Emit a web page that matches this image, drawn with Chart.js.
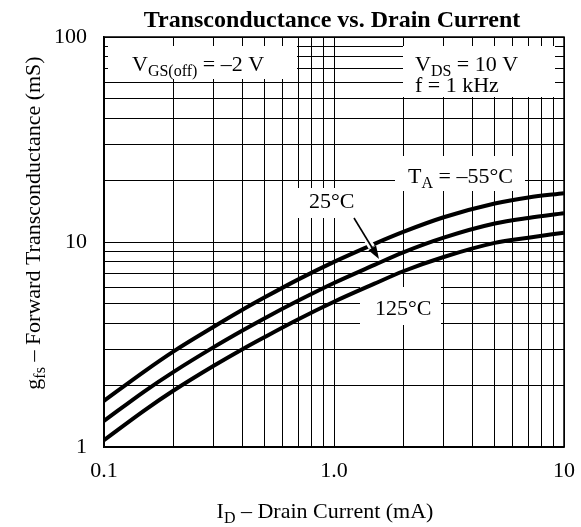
<!DOCTYPE html>
<html>
<head>
<meta charset="utf-8">
<script src="https://cdn.jsdelivr.net/npm/chart.js@4"></script>
<style>
  html, body { margin: 0; padding: 0; background: #fff; }
</style>
</head>
<body>
<canvas id="chart" width="581" height="527"></canvas>
<script>
// Drain current (mA) and forward transconductance (mS)
const currents   = [0.1, 0.15, 0.2, 0.3, 0.4, 0.5, 0.7, 1, 1.5, 2, 3, 5, 7, 10];
const gfsMinus55 = [1.68, 2.34, 2.92, 3.86, 4.67, 5.37, 6.57, 8.0, 9.8, 11.2, 13.2, 15.4, 16.5, 17.3];
const gfs25      = [1.34, 1.87, 2.32, 3.07, 3.70, 4.25, 5.18, 6.31, 7.73, 8.9, 10.5, 12.3, 13.1, 13.8];
const gfs125     = [1.08, 1.51, 1.88, 2.49, 3.0, 3.44, 4.2, 5.11, 6.26, 7.2, 8.45, 9.9, 10.5, 11.1];

// grid lines and tick labels
const xGrid = [0.1, 0.2, 0.3, 0.4, 0.5, 0.6, 0.7, 0.8, 0.9, 1, 2, 3, 4, 5, 6, 7, 8, 9, 10];
const yGrid = [1, 2, 3, 4, 5, 6, 7, 8, 9, 10, 20, 30, 40, 50, 60, 70, 80, 90, 100];
const xLabels = { 0.1: "0.1", 1: "1.0", 10: "10" };
const yLabels = { 1: "1", 10: "10", 100: "100" };

const FAMILY = "'Liberation Serif', 'Times New Roman', serif";
const MAIN = "22px " + FAMILY;
const SUB = "16px " + FAMILY;

const toPoints = vals => currents.map((c, i) => ({ x: c, y: vals[i] }));

// draws text with subscripts, parts = [[text, isSub], ...]
function richText(ctx, parts, x, y, align) {
  let w = 0;
  parts.forEach(p => { ctx.font = p[1] ? SUB : MAIN; w += ctx.measureText(p[0]).width; });
  let cx = align === "center" ? x - w / 2 : x;
  ctx.textAlign = "left";
  ctx.textBaseline = "alphabetic";
  parts.forEach(p => {
    ctx.font = p[1] ? SUB : MAIN;
    ctx.fillText(p[0], cx, y + (p[1] ? 5 : 0));
    cx += ctx.measureText(p[0]).width;
  });
}

const boxes = [
  [108, 46, 297, 79],
  [403, 46, 555, 97],
  [395, 156, 525, 191],
  [290, 188, 358, 218],
  [360, 287, 441, 325]
];

const decorations = {
  id: "decorations",
  beforeDatasetsDraw(chart) {
    const ctx = chart.ctx;
    ctx.save();
    ctx.fillStyle = "#fff";
    boxes.forEach(b => ctx.fillRect(b[0], b[1], b[2] - b[0], b[3] - b[1]));
    ctx.restore();
  },
  afterDatasetsDraw(chart) {
    const ctx = chart.ctx;
    const a = chart.chartArea;
    ctx.save();
    // frame
    ctx.strokeStyle = "#000";
    ctx.lineWidth = 1.5;
    ctx.strokeRect(a.left, a.top, a.right - a.left, a.bottom - a.top);

    // arrow 25°C
    const x0 = 354, y0 = 218, x1 = 379, y1 = 259;
    const dx = x1 - x0, dy = y1 - y0, len = Math.hypot(dx, dy);
    const ux = dx / len, uy = dy / len;
    ctx.strokeStyle = "#fff";
    ctx.lineWidth = 7;
    ctx.beginPath();
    ctx.moveTo(x0 + ux * 12, y0 + uy * 12);
    ctx.lineTo(x1 - ux * 14, y1 - uy * 14);
    ctx.stroke();
    ctx.strokeStyle = "#000";
    ctx.lineWidth = 1.6;
    ctx.beginPath();
    ctx.moveTo(x0, y0);
    ctx.lineTo(x1 - ux * 10, y1 - uy * 10);
    ctx.stroke();
    ctx.fillStyle = "#000";
    ctx.beginPath();
    ctx.moveTo(x1, y1);
    ctx.lineTo(x1 - ux * 13 - uy * 4.5, y1 - uy * 13 + ux * 4.5);
    ctx.lineTo(x1 - ux * 13 + uy * 4.5, y1 - uy * 13 - ux * 4.5);
    ctx.closePath();
    ctx.fill();
    ctx.restore();
  },
  afterDraw(chart) {
    const ctx = chart.ctx;
    ctx.save();
    ctx.fillStyle = "#000";
    // title
    ctx.font = "bold 24px " + FAMILY;
    ctx.textAlign = "center";
    ctx.textBaseline = "alphabetic";
    ctx.fillText("Transconductance vs. Drain Current", 332, 27);

    richText(ctx, [["V"], ["GS(off)", 1], [" = \u20132 V"]], 132, 70.5, "left");
    richText(ctx, [["V"], ["DS", 1], [" = 10 V"]], 415, 70.5, "left");
    richText(ctx, [["f = 1 kHz"]], 415, 92, "left");
    richText(ctx, [["T"], ["A", 1], [" = \u201355\u00B0C"]], 408, 183, "left");
    richText(ctx, [["25\u00B0C"]], 309, 208, "left");
    richText(ctx, [["125\u00B0C"]], 375, 315, "left");

    // axis titles
    richText(ctx, [["I"], ["D", 1], [" \u2013 Drain Current (mA)"]], 325, 518, "center");
    ctx.translate(40, 223);
    ctx.rotate(-Math.PI / 2);
    richText(ctx, [["g"], ["fs", 1], [" \u2013 Forward Transconductance (mS)"]], 0, 0, "center");
    ctx.restore();
  }
};

const series = [gfsMinus55, gfs25, gfs125];

new Chart(document.getElementById("chart"), {
  type: "line",
  data: {
    datasets: series.map(vals => ({
      data: toPoints(vals),
      borderColor: "#000",
      borderWidth: 4,
      pointRadius: 0,
      fill: false,
      cubicInterpolationMode: "monotone"
    }))
  },
  options: {
    responsive: false,
    animation: false,
    devicePixelRatio: 1,
    layout: { padding: { top: 37, right: 17, left: 0, bottom: 0 } },
    plugins: { legend: { display: false }, tooltip: { enabled: false }, title: { display: false } },
    scales: {
      x: {
        type: "logarithmic",
        min: 0.1,
        max: 10,
        afterBuildTicks: s => { s.ticks = xGrid.map(v => ({ value: v })); },
        afterFit: s => { s.height = 80; s.paddingLeft = 0; s.paddingRight = 0; },
        grid: { color: "#000", lineWidth: 1, drawTicks: false },
        border: { color: "#000", width: 1.5 },
        ticks: {
          autoSkip: false, maxRotation: 0, padding: 11, color: "#000",
          font: { family: FAMILY, size: 22 },
          callback: v => xLabels[v] ?? ""
        }
      },
      y: {
        type: "logarithmic",
        min: 1,
        max: 100,
        afterBuildTicks: s => { s.ticks = yGrid.map(v => ({ value: v })); },
        afterFit: s => { s.width = 104; s.paddingTop = 0; s.paddingBottom = 0; },
        grid: { color: "#000", lineWidth: 1, drawTicks: false },
        border: { color: "#000", width: 1.5 },
        ticks: {
          autoSkip: false, padding: 17, color: "#000",
          font: { family: FAMILY, size: 22 },
          callback: v => yLabels[v] ?? ""
        }
      }
    }
  },
  plugins: [decorations]
});
</script>
</body>
</html>
